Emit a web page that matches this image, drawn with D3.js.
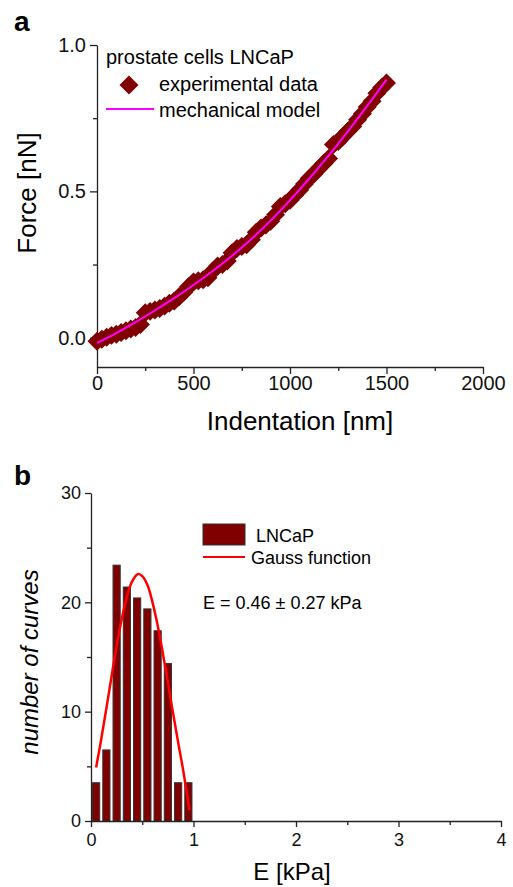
<!DOCTYPE html>
<html>
<head>
<meta charset="utf-8">
<script src="https://cdn.jsdelivr.net/npm/d3@7"></script>
<style>
  body { margin: 0; background: #fff; }
  svg { display: block; font-family: "Liberation Sans", Arial, sans-serif; }
  .axis path, .axis line { stroke: #222; stroke-width: 1.3; }
  .axis text { fill: #111; }
</style>
</head>
<body>
<div id="canvas"></div>
<script>
"use strict";

/* Panel a: force curve */
let indentation = [0, 25, 50, 75, 100, 125, 150, 175, 200, 225, 250, 275, 300, 325, 350, 375,
  400, 425, 450, 475, 500, 525, 550, 575, 600, 625, 650, 675, 700, 725, 750, 775,
  800, 825, 850, 875, 900, 925, 950, 975, 1000, 1025, 1050, 1075, 1100, 1125, 1150, 1175,
  1200, 1225, 1250, 1275, 1300, 1325, 1350, 1375, 1400, 1425, 1450, 1475, 1500];
let forceData = [-0.012, -0.005, 0.002, 0.008, 0.012, 0.018, 0.024, 0.030, 0.035, 0.045, 0.085, 0.090, 0.095, 0.100, 0.108, 0.118,
  0.125, 0.140, 0.155, 0.175, 0.190, 0.195, 0.198, 0.205, 0.228, 0.245, 0.250, 0.262, 0.290, 0.305, 0.312, 0.318,
  0.335, 0.360, 0.375, 0.385, 0.398, 0.420, 0.448, 0.458, 0.470, 0.488, 0.505, 0.525, 0.545, 0.560, 0.578, 0.595,
  0.612, 0.660, 0.670, 0.688, 0.705, 0.722, 0.745, 0.765, 0.788, 0.808, 0.835, 0.855, 0.870];

let modelIndent = [0, 100, 200, 300, 400, 500, 600, 700, 800, 900, 1000, 1100, 1200, 1300, 1400, 1500];
let modelForce = [-0.018, 0.016, 0.053, 0.093, 0.135, 0.180, 0.228, 0.280, 0.337, 0.400, 0.470, 0.544, 0.622, 0.705, 0.792, 0.882];

let xTicksA = [0, 500, 1000, 1500, 2000];
let xMinorA = [250, 750, 1250, 1750];
let yTicksA = [0, 0.5, 1.0];
let yMinorA = [0.25, 0.75];

/* Panel b: histogram of E */
let binCenters = [0.05, 0.15, 0.25, 0.35, 0.45, 0.55, 0.65, 0.75, 0.85, 0.95];
let binCounts = [3.5, 6.5, 23.4, 21.4, 20.4, 19.4, 17.4, 14.4, 3.5, 3.5];

let gaussE = [0.05, 0.10, 0.15, 0.20, 0.25, 0.30, 0.35, 0.40, 0.46, 0.50, 0.55, 0.60, 0.65, 0.70, 0.75, 0.80, 0.85, 0.90, 0.96];
let gaussN = [4.9, 7.5, 10.3, 13.2, 16.0, 18.5, 20.5, 21.9, 22.6, 22.4, 21.6, 20.0, 17.9, 15.4, 12.7, 9.9, 7.2, 4.6, 1.0];

let xTicksB = [0, 1, 2, 3, 4];
let xMinorB = [0.5, 1.5, 2.5, 3.5];
let yTicksB = [0, 10, 20, 30];
let yMinorB = [5, 15, 25];

let svgWidth = 513;
let svgHeight = 887;
let darkRed = "#800000";

let svg = d3.select("#canvas")
  .append("svg")
  .attr("width", svgWidth)
  .attr("height", svgHeight);

/* ---------- panel a ---------- */
let xA = d3.scaleLinear().domain([0, 2000]).range([97, 483]);
let yA = d3.scaleLinear().domain([-0.1, 1.0]).range([367, 45]);

svg.append("g")
  .attr("class", "axis")
  .attr("transform", "translate(0,367)")
  .call(d3.axisBottom(xA).tickValues(xTicksA).tickSize(7).tickSizeOuter(0).tickPadding(2).tickFormat(d3.format("d")))
  .attr("font-size", 20).attr("font-family", null);
svg.append("g")
  .attr("class", "axis")
  .attr("transform", "translate(0,367)")
  .call(d3.axisBottom(xA).tickValues(xMinorA).tickSize(4).tickFormat(""))
  .select(".domain").remove();

svg.append("g")
  .attr("class", "axis")
  .attr("transform", "translate(97,0)")
  .call(d3.axisLeft(yA).tickValues(yTicksA).tickSize(7).tickSizeOuter(0).tickPadding(4).tickFormat(d3.format(".1f")))
  .attr("font-size", 20).attr("font-family", null);
svg.append("g")
  .attr("class", "axis")
  .attr("transform", "translate(97,0)")
  .call(d3.axisLeft(yA).tickValues(yMinorA).tickSize(4).tickFormat(""))
  .select(".domain").remove();

// same diamond size as the legend symbol
let diamond = d3.symbol().type(d3.symbolSquare).size(180);
let pointsA = indentation.map((d, i) => ({ x: d, y: forceData[i] }));

svg.append("g")
  .selectAll("path")
  .data(pointsA)
  .enter()
  .append("path")
  .attr("d", diamond)
  .attr("transform", d => "translate(" + xA(d.x) + "," + yA(d.y) + ") rotate(45)")
  .attr("fill", darkRed);

let modelLine = d3.line()
  .x((d, i) => xA(modelIndent[i]))
  .y(d => yA(d))
  .curve(d3.curveCatmullRom);

svg.append("path")
  .datum(modelForce)
  .attr("d", modelLine)
  .attr("fill", "none")
  .attr("stroke", "#ff00ff")
  .attr("stroke-width", 2);

/* legend a */
svg.append("text").attr("x", 106).attr("y", 64).attr("font-size", 20).text("prostate cells LNCaP");
svg.append("path")
  .attr("d", diamond)
  .attr("transform", "translate(129,85) rotate(45)")
  .attr("fill", darkRed);
svg.append("text").attr("x", 159).attr("y", 91).attr("font-size", 20).text("experimental data");
svg.append("line")
  .attr("x1", 106).attr("x2", 154).attr("y1", 109).attr("y2", 109)
  .attr("stroke", "#ff00ff").attr("stroke-width", 2);
svg.append("text").attr("x", 159).attr("y", 117).attr("font-size", 20).text("mechanical model");

/* axis titles a */
svg.append("text")
  .attr("x", 300).attr("y", 430)
  .attr("text-anchor", "middle")
  .attr("font-size", 26)
  .text("Indentation [nm]");
svg.append("text")
  .attr("transform", "translate(36,193) rotate(-90)")
  .attr("text-anchor", "middle")
  .attr("font-size", 26)
  .text("Force [nN]");
svg.append("text")
  .attr("x", 14).attr("y", 31)
  .attr("font-size", 28).attr("font-weight", "bold")
  .text("a");

/* ---------- panel b ---------- */
let xB = d3.scaleLinear().domain([0, 4]).range([91, 501]);
let yB = d3.scaleLinear().domain([0, 30]).range([821, 493]);

let barHalf = 0.035;
svg.append("g")
  .selectAll("rect")
  .data(binCounts)
  .enter()
  .append("rect")
  .attr("x", (d, i) => xB(binCenters[i] - barHalf))
  .attr("width", (d, i) => xB(binCenters[i] + barHalf) - xB(binCenters[i] - barHalf))
  .attr("y", d => yB(d))
  .attr("height", d => yB(0) - yB(d))
  .attr("fill", darkRed)
  .attr("stroke", "#333")
  .attr("stroke-width", 1);

let gaussLine = d3.line()
  .x((d, i) => xB(gaussE[i]))
  .y(d => yB(d))
  .curve(d3.curveCatmullRom);

svg.append("path")
  .datum(gaussN)
  .attr("d", gaussLine)
  .attr("fill", "none")
  .attr("stroke", "#ff0000")
  .attr("stroke-width", 2.5);

svg.append("g")
  .attr("class", "axis")
  .attr("transform", "translate(0,821)")
  .call(d3.axisBottom(xB).tickValues(xTicksB).tickSize(6).tickSizeOuter(0).tickPadding(6).tickFormat(d3.format("d")))
  .attr("font-size", 18).attr("font-family", null);
svg.append("g")
  .attr("class", "axis")
  .attr("transform", "translate(0,821)")
  .call(d3.axisBottom(xB).tickValues(xMinorB).tickSize(4).tickFormat(""))
  .select(".domain").remove();

svg.append("g")
  .attr("class", "axis")
  .attr("transform", "translate(91,0)")
  .call(d3.axisLeft(yB).tickValues(yTicksB).tickSize(6).tickSizeOuter(0).tickPadding(4))
  .attr("font-size", 18).attr("font-family", null);
svg.append("g")
  .attr("class", "axis")
  .attr("transform", "translate(91,0)")
  .call(d3.axisLeft(yB).tickValues(yMinorB).tickSize(4).tickFormat(""))
  .select(".domain").remove();

/* legend b */
svg.append("rect")
  .attr("x", 203).attr("y", 524).attr("width", 42).attr("height", 21)
  .attr("fill", darkRed).attr("stroke", "#333").attr("stroke-width", 1);
svg.append("text").attr("x", 256).attr("y", 542).attr("font-size", 18).text("LNCaP");
svg.append("line")
  .attr("x1", 203).attr("x2", 245).attr("y1", 557).attr("y2", 557)
  .attr("stroke", "#ff0000").attr("stroke-width", 2);
svg.append("text").attr("x", 251).attr("y", 564).attr("font-size", 18).text("Gauss function");
svg.append("text").attr("x", 203).attr("y", 609).attr("font-size", 18).text("E = 0.46 \u00b1 0.27 kPa");

/* axis titles b */
svg.append("text")
  .attr("x", 292).attr("y", 880)
  .attr("text-anchor", "middle")
  .attr("font-size", 24)
  .text("E [kPa]");
svg.append("text")
  .attr("transform", "translate(38,662) rotate(-90)")
  .attr("text-anchor", "middle")
  .attr("font-size", 24)
  .attr("font-style", "italic")
  .text("number of curves");
svg.append("text")
  .attr("x", 14).attr("y", 485)
  .attr("font-size", 28).attr("font-weight", "bold")
  .text("b");
</script>
</body>
</html>
